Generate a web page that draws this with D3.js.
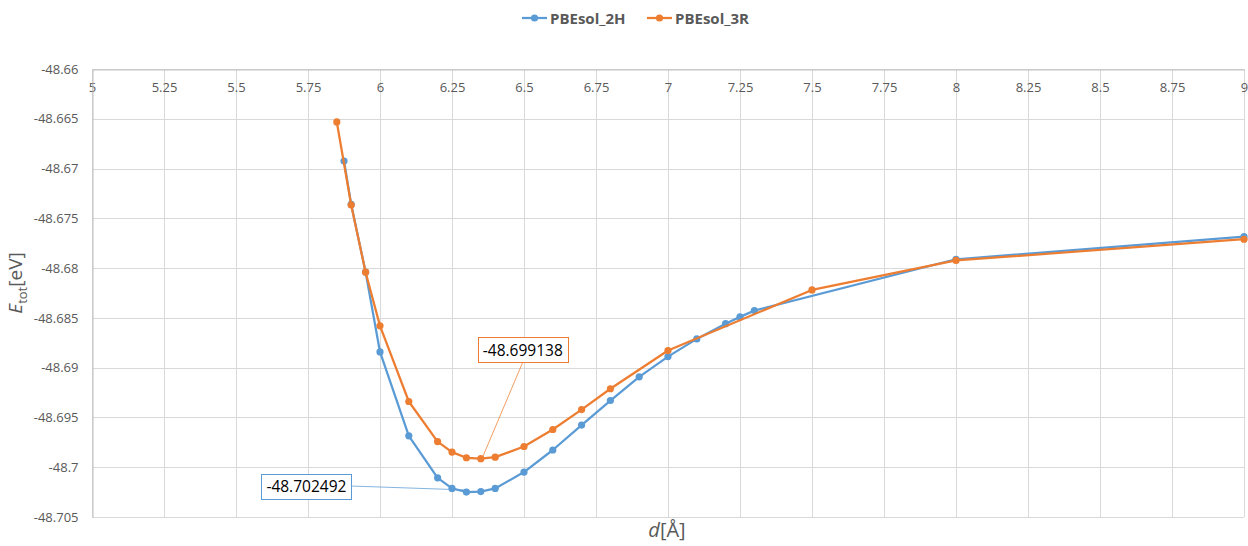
<!DOCTYPE html>
<html>
<head>
<meta charset="utf-8">
<script src="https://cdn.jsdelivr.net/npm/d3@7"></script>
<style>
  html, body { margin: 0; padding: 0; background: #fff; }
  svg { display: block; }
  text { font-family: "Open Sans", "Noto Sans", "Liberation Sans", sans-serif; }
</style>
</head>
<body>
<div id="chart"></div>
<script>
// ---- data ----
const seriesNames = ["PBEsol_2H", "PBEsol_3R"];
const x2H = [5.875, 5.9, 5.95, 6.0, 6.1, 6.2, 6.25, 6.3, 6.35, 6.4, 6.5, 6.6, 6.7, 6.8, 6.9, 7.0, 7.1, 7.2, 7.25, 7.3, 8.0, 9.0];
const y2H = [-48.66924, -48.6736, -48.6804, -48.68842, -48.69685, -48.70107, -48.70213, -48.702492, -48.70245, -48.70213, -48.70049, -48.69827, -48.69577, -48.6933, -48.69092, -48.68889, -48.68711, -48.68558, -48.6849, -48.68427, -48.67911, -48.67684];
const x3R = [5.85, 5.9, 5.95, 6.0, 6.1, 6.2, 6.25, 6.3, 6.35, 6.4, 6.5, 6.6, 6.7, 6.8, 7.0, 7.5, 8.0, 9.0];
const y3R = [-48.66532, -48.67366, -48.68041, -48.6858, -48.6934, -48.69742, -48.69848, -48.69905, -48.699138, -48.69899, -48.69792, -48.69621, -48.69421, -48.69212, -48.68828, -48.68219, -48.67923, -48.6771];
const xTicks = [5, 5.25, 5.5, 5.75, 6, 6.25, 6.5, 6.75, 7, 7.25, 7.5, 7.75, 8, 8.25, 8.5, 8.75, 9];
const yTicks = [-48.66, -48.665, -48.67, -48.675, -48.68, -48.685, -48.69, -48.695, -48.7, -48.705];
const xTickLabels = ["5", "5.25", "5.5", "5.75", "6", "6.25", "6.5", "6.75", "7", "7.25", "7.5", "7.75", "8", "8.25", "8.5", "8.75", "9"];
const yTickLabels = ["-48.66", "-48.665", "-48.67", "-48.675", "-48.68", "-48.685", "-48.69", "-48.695", "-48.7", "-48.705"];
const labelIndex2H = 7;   // -48.702492
const labelIndex3R = 8;   // -48.699138
const labelText2H = "-48.702492";
const labelText3R = "-48.699138";

// ---- layout ----
const W = 1248, H = 546;
const colors = ["#5B9BD5", "#ED7D31"];
const textGrey = "#595959";

const svg = d3.select("#chart").append("svg").attr("width", W).attr("height", H);

const x = d3.scaleLinear().domain([5, 9]).range([92, 1244]);
const y = d3.scaleLinear().domain([-48.705, -48.66]).range([517, 69]);

// grid
const grid = svg.append("g");
grid.selectAll("line.vg").data(xTicks).join("line")
  .attr("x1", d => Math.round(x(d)) + 0.5).attr("x2", d => Math.round(x(d)) + 0.5)
  .attr("y1", y(-48.66)).attr("y2", y(-48.705))
  .attr("stroke", "#d9d9d9").attr("stroke-width", 1);
grid.selectAll("line.hg").data(yTicks).join("line")
  .attr("y1", d => Math.round(y(d)) + 0.5).attr("y2", d => Math.round(y(d)) + 0.5)
  .attr("x1", x(5)).attr("x2", x(9))
  .attr("stroke", "#d9d9d9").attr("stroke-width", 1);

// axes (x axis sits at top, crossing at -48.66)
const xAxis = d3.axisBottom(x).tickValues(xTicks).tickFormat((d, i) => xTickLabels[i]).tickSize(0).tickPadding(13);
const gx = svg.append("g").attr("transform", `translate(0,${Math.round(y(-48.66)) + 0.5})`).call(xAxis);
gx.select(".domain").attr("stroke", "#bfbfbf");
gx.selectAll("text").attr("fill", textGrey).attr("font-size", 13);

const yAxis = d3.axisLeft(y).tickValues(yTicks).tickFormat((d, i) => yTickLabels[i]).tickSize(0).tickPadding(14);
const gy = svg.append("g").attr("transform", `translate(${Math.round(x(5)) + 0.5},0)`).call(yAxis);
gy.select(".domain").attr("stroke", "#bfbfbf");
gy.selectAll("text").attr("fill", textGrey).attr("font-size", 13);

// series
const series = [
  { name: seriesNames[0], xs: x2H, ys: y2H, color: colors[0] },
  { name: seriesNames[1], xs: x3R, ys: y3R, color: colors[1] }
];
const line = d3.line().x(d => x(d[0])).y(d => y(d[1]));
series.forEach(s => {
  const pts = s.xs.map((v, i) => [v, s.ys[i]]);
  const g = svg.append("g");
  g.append("path").datum(pts).attr("d", line)
    .attr("fill", "none").attr("stroke", s.color).attr("stroke-width", 2.25)
    .attr("stroke-linejoin", "round");
  g.selectAll("circle").data(pts).join("circle")
    .attr("cx", d => x(d[0])).attr("cy", d => y(d[1])).attr("r", 3.6)
    .attr("fill", s.color);
});

// data labels with leader lines
function dataLabel(xs, ys, idx, txt, color, dx, dy, anchorSide) {
  const px = x(xs[idx]), py = y(ys[idx]);
  const g = svg.append("g");
  const t = g.append("text").attr("x", px + dx).attr("y", py + dy)
    .attr("text-anchor", "middle").attr("dominant-baseline", "central")
    .attr("font-size", 15.5).attr("fill", "#000").text(txt);
  const bb = t.node().getBBox();
  const bw = bb.width + 10, bh = 25;
  const bx = px + dx - bw / 2, by = py + dy - bh / 2;
  g.insert("rect", "text").attr("x", Math.round(bx) + 0.5).attr("y", Math.round(by) + 0.5)
    .attr("width", Math.round(bw)).attr("height", bh)
    .attr("fill", "#fff").attr("stroke", color).attr("stroke-width", 1);
  let lx, ly;
  if (anchorSide === "bottom") { lx = px + dx; ly = by + bh; }
  else { lx = bx + bw; ly = py + dy; }
  g.insert("line", "rect").attr("x1", lx).attr("y1", ly).attr("x2", px + 2).attr("y2", py - 2)
    .attr("stroke", color).attr("stroke-width", 0.75);
}
dataLabel(x3R, y3R, labelIndex3R, labelText3R, colors[1], 42, -109, "bottom");
dataLabel(x2H, y2H, labelIndex2H, labelText2H, colors[0], -160, -6, "right");

// legend
const legend = svg.append("g").attr("transform", "translate(0,18)");
const legX = [522, 647];
series.forEach((s, i) => {
  const g = legend.append("g").attr("transform", `translate(${legX[i]},0)`);
  g.append("line").attr("x1", 0).attr("x2", 25).attr("y1", 0).attr("y2", 0)
    .attr("stroke", s.color).attr("stroke-width", 2.25);
  g.append("circle").attr("cx", 12.5).attr("cy", 0).attr("r", 3.6).attr("fill", s.color);
  g.append("text").attr("x", 28).attr("y", 0).attr("dominant-baseline", "central")
    .attr("font-size", 15).attr("font-weight", "bold").attr("fill", textGrey).text(s.name);
});

// axis titles
const xt = svg.append("text").attr("x", 667).attr("y", 537).attr("text-anchor", "middle")
  .attr("font-size", 20).attr("fill", textGrey);
xt.append("tspan").attr("font-style", "italic").text("d");
xt.append("tspan").text("[Å]");

const yt = svg.append("text").attr("transform", "translate(22,283) rotate(-90)")
  .attr("text-anchor", "middle").attr("font-size", 19).attr("fill", textGrey);
yt.append("tspan").attr("font-style", "italic").text("E");
yt.append("tspan").attr("font-size", 13).attr("dy", 5).text("tot");
yt.append("tspan").attr("dy", -5).text("[eV]");
</script>
</body>
</html>
